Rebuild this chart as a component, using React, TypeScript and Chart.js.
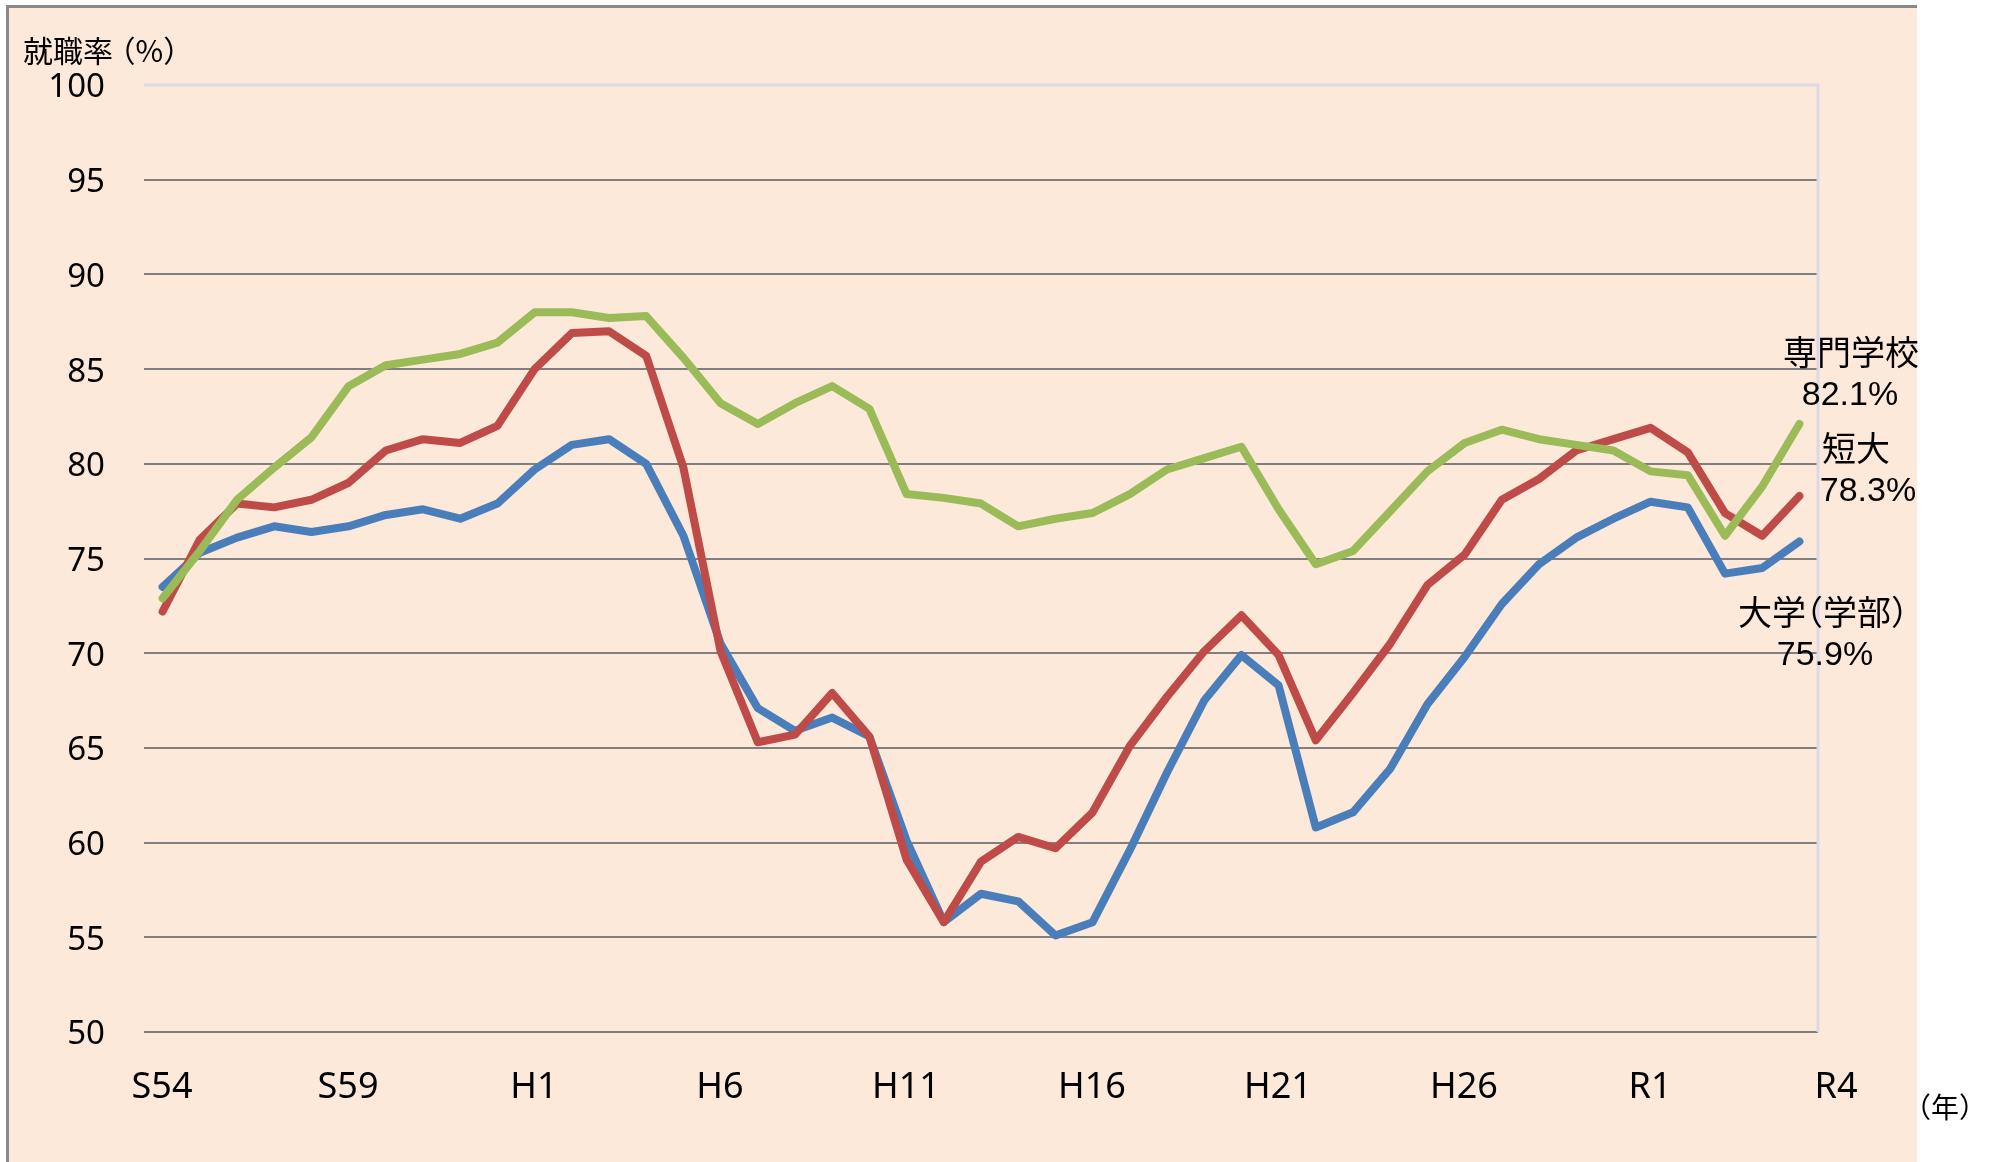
import React, { useEffect, useRef } from 'react';
import { Chart, registerables } from 'chart.js';

Chart.register(...registerables);

// ---- data ----
const YEAR_LABELS = [
  'S54', 'S55', 'S56', 'S57', 'S58', 'S59', 'S60', 'S61', 'S62', 'S63',
  'H1', 'H2', 'H3', 'H4', 'H5', 'H6', 'H7', 'H8', 'H9', 'H10',
  'H11', 'H12', 'H13', 'H14', 'H15', 'H16', 'H17', 'H18', 'H19', 'H20',
  'H21', 'H22', 'H23', 'H24', 'H25', 'H26', 'H27', 'H28', 'H29', 'H30',
  'R1', 'R2', 'R3', 'R4', 'R5',
];

const AXIS_LABELS = ['S54', 'S59', 'H1', 'H6', 'H11', 'H16', 'H21', 'H26', 'R1', 'R4'];

const UNIVERSITY = [
  73.5, 75.3, 76.1, 76.7, 76.4, 76.7, 77.3, 77.6, 77.1, 77.9,
  79.7, 81.0, 81.3, 80.0, 76.2, 70.5, 67.1, 65.9, 66.6, 65.6,
  60.1, 55.8, 57.3, 56.9, 55.1, 55.8, 59.6, 63.7, 67.5, 69.9,
  68.3, 60.8, 61.6, 63.9, 67.3, 69.8, 72.6, 74.7, 76.1, 77.1,
  78.0, 77.7, 74.2, 74.5, 75.9,
];

const JUNIOR_COLLEGE = [
  72.2, 76.0, 77.9, 77.7, 78.1, 79.0, 80.7, 81.3, 81.1, 82.0,
  85.0, 86.9, 87.0, 85.7, 79.8, 70.1, 65.3, 65.7, 67.9, 65.6,
  59.1, 55.8, 59.0, 60.3, 59.7, 61.6, 65.1, 67.7, 70.1, 72.0,
  69.9, 65.4, 67.9, 70.5, 73.6, 75.2, 78.1, 79.2, 80.7, 81.3,
  81.9, 80.6, 77.4, 76.2, 78.3,
];

const VOCATIONAL = [
  72.9, 75.4, 78.1, 79.8, 81.4, 84.1, 85.2, 85.5, 85.8, 86.4,
  88.0, 88.0, 87.7, 87.8, 85.6, 83.2, 82.1, 83.2, 84.1, 82.9,
  78.4, 78.2, 77.9, 76.7, 77.1, 77.4, 78.4, 79.7, 80.3, 80.9,
  77.6, 74.7, 75.4, 77.5, 79.6, 81.1, 81.8, 81.3, 81.0, 80.7,
  79.6, 79.4, 76.2, 78.8, 82.1,
];

const SERIES_NAMES = ['大学（学部）', '短大', '専門学校'];
const Y_MIN = 50;
const Y_MAX = 100;
const Y_STEP = 5;
const Y_TITLE = '就職率（%）';
const X_UNIT = '（年）';

// ---- layout / style ----
const W = 1993;
const H = 1162;
const COLORS = { univ: '#4A7EBB', junior: '#BE4B48', voc: '#9BBB59' };
const CJK = '"Noto Sans CJK JP", sans-serif';
const MIXED = '"Liberation Sans", "Noto Sans CJK JP", sans-serif';

function drawPText(
  ctx: CanvasRenderingContext2D,
  text: string,
  x: number,
  y: number,
  size: number,
  align: 'left' | 'center',
  parenAdv = 0.5,
) {
  const parts: { c: string; dx: number; adv: number }[] = [];
  for (const c of Array.from(text)) {
    if (c === '（') parts.push({ c, dx: -(1 - parenAdv) * size, adv: parenAdv * size });
    else if (c === '）') parts.push({ c, dx: 0, adv: parenAdv * size });
    else parts.push({ c, dx: 0, adv: ctx.measureText(c).width });
  }
  const total = parts.reduce((s, p) => s + p.adv, 0);
  let cx = align === 'center' ? x - total / 2 : x;
  ctx.textAlign = 'left';
  for (const p of parts) {
    ctx.fillText(p.c, cx + p.dx, y);
    cx += p.adv;
  }
}

const last = (a: number[]) => a[a.length - 1];

const decorPlugin = {
  id: 'decor',
  beforeDraw(chart: any) {
    const { ctx } = chart;
    ctx.save();
    ctx.fillStyle = '#FFFFFF';
    ctx.fillRect(0, 0, W, H);
    ctx.fillStyle = '#FDE9D9';
    ctx.fillRect(8, 7, 1909, H - 7);
    ctx.fillStyle = '#898989';
    ctx.fillRect(6, 5, 1911, 3);
    ctx.fillRect(6, 5, 3, H - 5);
    ctx.restore();
  },
  beforeDatasetsDraw(chart: any) {
    const { ctx, chartArea: a } = chart;
    ctx.save();
    ctx.strokeStyle = '#DCD8EA';
    ctx.lineWidth = 3;
    ctx.beginPath();
    ctx.moveTo(a.left, a.top);
    ctx.lineTo(a.right, a.top);
    ctx.lineTo(a.right, a.bottom);
    ctx.stroke();
    ctx.restore();
  },
  afterDraw(chart: any) {
    const { ctx } = chart;
    ctx.save();
    ctx.fillStyle = '#000000';
    ctx.textBaseline = 'middle';

    ctx.font = `30px ${CJK}`;
    drawPText(ctx, Y_TITLE, 23, 51, 30, 'left', 0.75);

    ctx.font = `28px ${CJK}`;
    drawPText(ctx, X_UNIT, 1945, 1107, 28, 'center');

    ctx.font = `34px ${MIXED}`;
    drawPText(ctx, SERIES_NAMES[2], 1851, 356, 34, 'center');
    drawPText(ctx, `${last(VOCATIONAL).toFixed(1)}%`, 1850, 396, 34, 'center');
    drawPText(ctx, SERIES_NAMES[1], 1856, 452, 34, 'center');
    drawPText(ctx, `${last(JUNIOR_COLLEGE).toFixed(1)}%`, 1868, 492, 34, 'center');
    drawPText(ctx, SERIES_NAMES[0], 1823, 616, 34, 'center');
    drawPText(ctx, `${last(UNIVERSITY).toFixed(1)}%`, 1825, 656, 34, 'center');
    ctx.restore();
  },
};

export default function App() {
  const ref = useRef<HTMLCanvasElement | null>(null);

  useEffect(() => {
    if (!ref.current) return;
    const line = (label: string, data: number[], color: string, order: number) => ({
      label,
      data,
      borderColor: color,
      backgroundColor: color,
      borderWidth: 8,
      pointRadius: 0,
      pointHoverRadius: 0,
      tension: 0,
      borderJoinStyle: 'round' as const,
      borderCapStyle: 'round' as const,
      fill: false,
      order,
    });

    const chart = new Chart(ref.current, {
      type: 'line',
      data: {
        labels: YEAR_LABELS,
        datasets: [
          line(SERIES_NAMES[0], UNIVERSITY, COLORS.univ, 3),
          line(SERIES_NAMES[1], JUNIOR_COLLEGE, COLORS.junior, 2),
          line(SERIES_NAMES[2], VOCATIONAL, COLORS.voc, 1),
        ],
      },
      options: {
        responsive: false,
        animation: false,
        devicePixelRatio: 1,
        layout: { padding: { top: 85, right: 175, bottom: 0, left: 0 } },
        plugins: {
          legend: { display: false },
          tooltip: { enabled: false },
        },
        scales: {
          x: {
            type: 'category',
            display: false,
            offset: true,
          },
          x2: {
            type: 'category',
            axis: 'x',
            position: 'bottom',
            labels: AXIS_LABELS,
            offset: false,
            grid: { display: false },
            border: { display: false },
            ticks: {
              autoSkip: false,
              maxRotation: 0,
              minRotation: 0,
              padding: 26,
              labelOffset: 18,
              color: '#000000',
              font: { family: '"Noto Sans", sans-serif', size: 36 },
            },
            afterFit: (s: any) => { s.height = 130; },
          },
          y: {
            type: 'linear',
            min: Y_MIN,
            max: Y_MAX,
            grid: {
              drawTicks: false,
              lineWidth: 2,
              color: (c: any) => (c.tick && c.tick.value === Y_MAX ? 'rgba(0,0,0,0)' : '#7F7F7F'),
            },
            border: { display: false },
            ticks: {
              stepSize: Y_STEP,
              padding: 39,
              labelOffset: 3,
              color: '#000000',
              font: { family: '"Noto Sans", sans-serif', size: 33 },
            },
            afterFit: (s: any) => { s.width = 144; },
          },
        },
      },
      plugins: [decorPlugin],
    } as any);

    return () => chart.destroy();
  }, []);

  return (
    <div style={{ position: 'absolute', left: 0, top: 0, width: W, height: H }}>
      <canvas ref={ref} width={W} height={H} style={{ display: 'block', width: W, height: H }} />
    </div>
  );
}
